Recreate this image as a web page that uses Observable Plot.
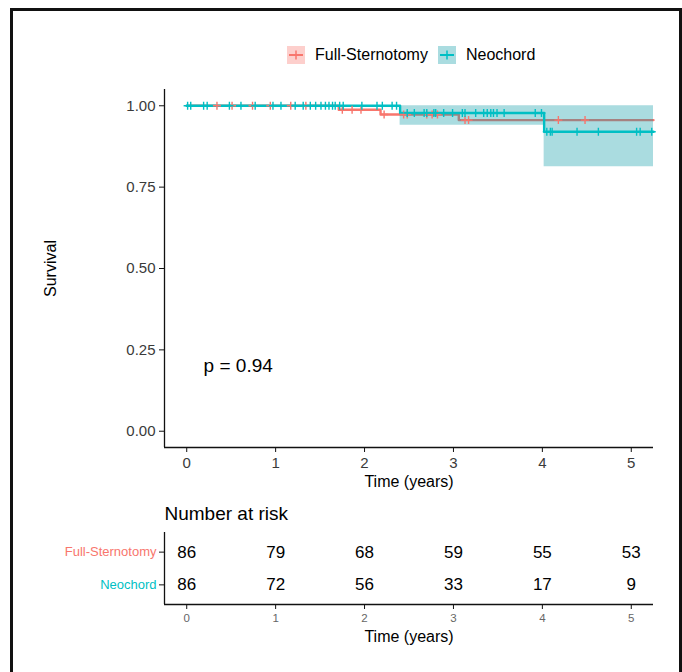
<!DOCTYPE html>
<html><head><meta charset="utf-8">
<script src="https://cdn.jsdelivr.net/npm/d3@7"></script>
<script src="https://cdn.jsdelivr.net/npm/@observablehq/plot@0.6"></script>
<style>
html,body{margin:0;padding:0;background:#fff;overflow:hidden;}
#wrap{position:relative;width:682px;height:672px;font-family:"Liberation Sans",Arial,sans-serif;}
#frame{position:absolute;left:10px;top:8px;width:672px;height:720px;border:3px solid #111;box-sizing:border-box;}
#p1{position:absolute;left:0;top:0;}
#p2{position:absolute;left:0;top:495px;}
#legend{position:absolute;left:287px;top:46px;display:flex;align-items:center;height:17px;font-size:16px;color:#000;}
.item{display:flex;align-items:center;margin-right:10px;}
.item svg{display:block;margin-right:10px;}
</style>
</head><body>
<div id="wrap"><div id="frame"></div><div id="legend"></div><div id="p1"></div><div id="p2"></div></div>
<script>
// ---- data ----
const groups = ["Full-Sternotomy", "Neochord"];
const colors = ["#F8766D", "#00BFC4"];
const bandColor = "#0C9BA6";

const timesFS = [0, 1.71, 2.18, 3.06, 5.25];
const survFS  = [1, 0.988, 0.973, 0.956, 0.956];
const timesNC = [0, 2.40, 4.02, 5.25];
const survNC  = [1, 0.978, 0.920, 0.920];
const bandTimesNC = [2.40, 4.02, 5.25];
const bandLowerNC = [0.940, 0.813, 0.813];
const bandUpperNC = [1, 1, 1];

const censorFS = [0.34, 0.51, 0.74, 0.94, 1.17, 1.34, 1.75, 1.86, 1.96, 2.22, 2.44, 2.48, 2.70, 2.76, 2.82, 3.13, 3.17, 4.18, 4.48];
const censorNC = [0.01, 0.045, 0.19, 0.23, 0.48, 0.61, 0.77, 0.97, 1.06, 1.22, 1.31,
  1.39, 1.45, 1.51, 1.56, 1.60, 1.64, 1.67, 1.72, 1.76, 1.97, 2.14, 2.20, 2.31, 2.36,
  2.48, 2.56, 2.67, 2.70, 2.78, 2.80, 2.89, 2.99, 3.10, 3.13, 3.25, 3.34, 3.38, 3.42, 3.45, 3.49, 3.57, 3.92, 3.99,
  4.05, 4.09, 4.11, 4.39, 4.63, 5.06, 5.10, 5.23];

const riskTimes = [0, 1, 2, 3, 4, 5];
const riskFS = [86, 79, 68, 59, 55, 53];
const riskNC = [86, 72, 56, 33, 17, 9];

const yTicks = [0, 0.25, 0.5, 0.75, 1];
const xDomain = [-0.25, 5.25];
const yDomain = [-0.05, 1.05];
const pText = "p = 0.94";
const pCoord = [0.19, 0.2];

const FONT = '"Liberation Sans", Arial, sans-serif';

// ---- derived tables ----
function stepAt(times, surv, t) {
  let s = surv[0];
  for (let i = 0; i < times.length; i++) if (times[i] <= t) s = surv[i];
  return s;
}
const lineFS = timesFS.map((t, i) => ({t, s: survFS[i]}));
const lineNC = timesNC.map((t, i) => ({t, s: survNC[i]}));
const bandNC = bandTimesNC.map((t, i) => ({t, lo: bandLowerNC[i], hi: bandUpperNC[i]}));
const cFS = censorFS.map(t => ({t, s: stepAt(timesFS, survFS, t)}));
const cNC = censorNC.map(t => ({t, s: stepAt(timesNC, survNC, t)}));
const riskData = [
  ...riskTimes.map((t, i) => ({t, row: 1, n: riskFS[i]})),
  ...riskTimes.map((t, i) => ({t, row: 2, n: riskNC[i]}))
];

// ---- legend ----
const leg = d3.select("#legend");
groups.forEach((g, i) => {
  const it = leg.append("div").attr("class", "item");
  const s = it.append("svg").attr("width", 18).attr("height", 18);
  s.append("rect").attr("width", 18).attr("height", 18).attr("fill", i === 0 ? colors[0] : bandColor).attr("fill-opacity", 0.35);
  s.append("line").attr("x1", 2).attr("x2", 16).attr("y1", 9).attr("y2", 9).attr("stroke", colors[i]).attr("stroke-width", 2);
  s.append("line").attr("x1", 9).attr("x2", 9).attr("y1", 4.5).attr("y2", 13.5).attr("stroke", colors[i]).attr("stroke-width", 1.5);
  it.append("span").text(g);
});

// ---- survival plot ----
const p1 = Plot.plot({
  width: 682, height: 495,
  marginLeft: 164, marginRight: 29, marginTop: 89, marginBottom: 48,
  style: {fontFamily: FONT, background: "transparent", overflow: "visible"},
  x: {domain: xDomain},
  y: {domain: yDomain},
  marks: [
    Plot.line(lineFS, {x: "t", y: "s", stroke: colors[0], strokeWidth: 2.4, curve: "step-after"}),
    Plot.areaY(bandNC, {x: "t", y1: "lo", y2: "hi", fill: bandColor, fillOpacity: 0.35, curve: "step-after"}),
    Plot.line(lineNC, {x: "t", y: "s", stroke: colors[1], strokeWidth: 2.4, curve: "step-after"}),
    Plot.dot(cFS, {x: "t", y: "s", symbol: "plus", r: 2.7, stroke: colors[0], strokeWidth: 1.4}),
    Plot.dot(cNC, {x: "t", y: "s", symbol: "plus", r: 2.7, stroke: colors[1], strokeWidth: 1.4}),
    Plot.ruleX([xDomain[0]], {stroke: "#111", strokeWidth: 1.3}),
    Plot.ruleY([yDomain[0]], {stroke: "#111", strokeWidth: 1.3}),
    Plot.axisY({ticks: yTicks, tickFormat: d3.format(".2f"), tickSize: 5, tickPadding: 4, fontSize: 15, fill: "#3a3a3a", stroke: "#111", label: null}),
    Plot.axisX({ticks: riskTimes, tickFormat: d3.format("d"), tickSize: 5, tickPadding: 5, fontSize: 15, fill: "#3a3a3a", stroke: "#111", label: null}),
    Plot.text([pText], {x: () => pCoord[0], y: () => pCoord[1], text: d => d, textAnchor: "start", fontSize: 19, fill: "#000"}),
    Plot.text(["Survival"], {frameAnchor: "left", rotate: -90, dx: -114, textAnchor: "middle", lineAnchor: "middle", fontSize: 16, fill: "#000"}),
    Plot.text(["Time (years)"], {frameAnchor: "bottom", dy: 34, textAnchor: "middle", lineAnchor: "middle", fontSize: 16, fill: "#000"})
  ]
});
document.getElementById("p1").appendChild(p1);

// ---- risk table ----
const p2 = Plot.plot({
  width: 682, height: 177,
  marginLeft: 164, marginRight: 29, marginTop: 37, marginBottom: 68,
  style: {fontFamily: FONT, background: "transparent", overflow: "visible"},
  x: {domain: xDomain},
  y: {domain: [0.4, 2.6], reverse: true},
  marks: [
    Plot.ruleX([xDomain[0]], {stroke: "#111", strokeWidth: 1.3}),
    Plot.ruleY([2.6], {stroke: "#111", strokeWidth: 1.3}),
    Plot.axisY([1], {tickFormat: () => groups[0], tickSize: 5, tickPadding: 3, fontSize: 13, fill: colors[0], stroke: "#111", label: null}),
    Plot.axisY([2], {tickFormat: () => groups[1], tickSize: 5, tickPadding: 3, fontSize: 13, fill: colors[1], stroke: "#111", label: null}),
    Plot.axisX({ticks: riskTimes, tickFormat: d3.format("d"), tickSize: 5, tickPadding: 4, fontSize: 11.5, fill: "#666", stroke: "#111", label: null}),
    Plot.text(riskData, {x: "t", y: "row", text: "n", fontSize: 17, fill: "#000"}),
    Plot.text(["Number at risk"], {frameAnchor: "top-left", dy: -19, textAnchor: "start", lineAnchor: "middle", fontSize: 19, fill: "#000"}),
    Plot.text(["Time (years)"], {frameAnchor: "bottom", dy: 32, textAnchor: "middle", lineAnchor: "middle", fontSize: 16, fill: "#000"})
  ]
});
document.getElementById("p2").appendChild(p2);
</script>
</body></html>
